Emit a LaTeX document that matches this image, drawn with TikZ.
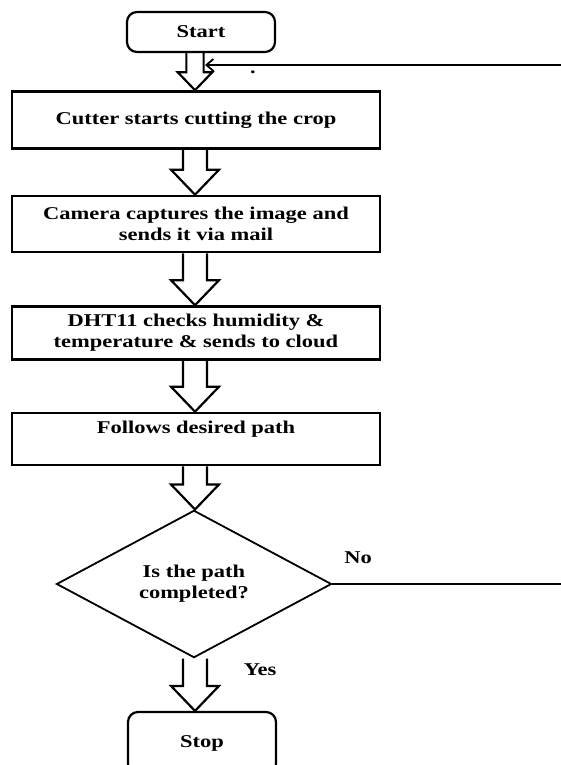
\documentclass[tikz,border=0pt]{standalone}
\usepackage{fontspec}
\setmainfont{Liberation Serif}[FakeStretch=1.25]
\usetikzlibrary{shapes.geometric, arrows.meta, positioning, calc}

% hollow block arrow down the spine, from one node to the next
\newcommand{\hollowarrow}[3][1]{%
  \draw[hollow] let \p1=(spine |- #2.south), \p2=(spine |- #3.north) in
    (\x1-12pt*#1,\y1) -- (\x1-12pt*#1,\y2+25pt*#1) -- (\x1-24pt*#1,\y2+25pt*#1)
    -- (\x1,\y2) -- (\x1+24pt*#1,\y2+25pt*#1) -- (\x1+12pt*#1,\y2+25pt*#1)
    -- (\x1+12pt*#1,\y1);}

\begin{document}
\begin{tikzpicture}[x=1pt, y=-1pt,
    every node/.style={font=\fontsize{18}{21}\selectfont\bfseries},
    terminal/.style={rectangle, rounded corners=10pt, draw, line width=2.2pt,
                minimum width=148pt, align=center},
    process/.style={rectangle, draw, line width=2.6pt,
                minimum width=368pt, align=center},
    decision/.style={diamond, draw, line width=1.8pt, inner sep=0pt,
                minimum width=275pt, minimum height=135pt, align=center},
    hollow/.style={line width=2.2pt, line join=miter},
    link/.style={line width=1.8pt}]

    \useasboundingbox (0,0) rectangle (560,765);
    \coordinate (spine) at (195,0);

    % Boxes
    \node[terminal, minimum height=40pt] (start) at (201,32) {Start};
    \node[process, minimum height=57pt] (cutter) at (196,120) {Cutter starts cutting the crop};
    \node[process, minimum height=56pt] (camera) at (196,224) {Camera captures the image and\\sends it via mail};
    \node[process, minimum height=53pt] (dht) at (196,333) {DHT11 checks humidity \&\\temperature \& sends to cloud};
    \node[process, minimum height=52pt, text depth=24pt] (follow) at (196,439) {Follows desired path};
    \node[decision] (check) at (194,584) {Is the path\\completed?};
    \node[terminal, minimum height=62pt] (stop) at (202,743) {Stop};

    % Labels
    \node (no) at (358,558) {No};
    \node (yes) at (260,670) {Yes};
    \node (dot) at (253,72) {.};

    % Arrows
    \hollowarrow[0.72]{start}{cutter}
    \hollowarrow{cutter}{camera}
    \hollowarrow{camera}{dht}
    \hollowarrow{dht}{follow}
    \hollowarrow{follow}{check}
    \hollowarrow{check}{stop}

    % Loop back
    \coordinate (noend) at (562,584);
    \coordinate (loopend) at (562,65);
    \coordinate (loopin) at (205,65);
    \draw[link] (check.east) -- (noend);
    \draw[link, -{Straight Barb[length=7pt, width=12pt]}] (loopend) -- (loopin);
\end{tikzpicture}
\end{document}
